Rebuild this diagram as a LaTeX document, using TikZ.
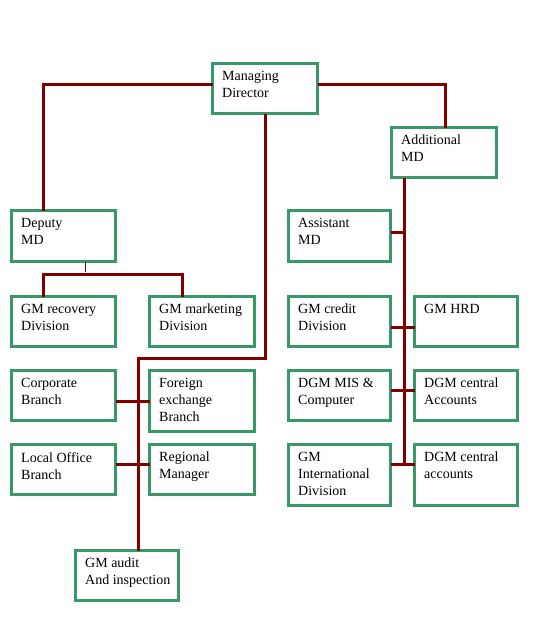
\documentclass[tikz,border=0pt]{standalone}
\usepackage{fontspec}
\setmainfont{Liberation Serif}
\usetikzlibrary{calc}
\definecolor{boxgreen}{RGB}{56,152,104}
\definecolor{linkred}{RGB}{128,0,0}
\tikzset{
  orgbox/.style={draw=boxgreen, line width=3pt, anchor=north west, inner sep=0pt, outer sep=0pt, fill=white},
  orgtext/.style={anchor=north west, align=left, inner sep=0pt, font=\fontsize{14}{17}\selectfont},
  link/.style={draw=linkred, line width=3pt},
  thinlink/.style={draw=linkred, line width=1pt},
}
\newcommand\orgnode[6]{% name x y w h text  (outer edges)
  \node[orgbox, minimum width=#4pt-3pt, minimum height=#5pt-3pt] (#1) at (#2+1.5,#3+1.5) {};
  \node[orgtext] (#1t) at (#2+11,#3+9) {#6};
}
\begin{document}
\begin{tikzpicture}[x=1pt,y=-1pt]
\path[fill=white] (0,0) rectangle (548,618);
\useasboundingbox (0,0) rectangle (548,618);

% lines first (behind boxes)
\coordinate (mdNW) at (211,62);
\orgnode{md}{211}{62}{108}{53}{Managing\\Director}
\orgnode{add}{390}{126}{108}{53}{Additional\\MD}
\orgnode{dep}{10}{209}{107}{54}{Deputy\\MD}
\orgnode{asst}{287}{209}{105}{54}{Assistant\\MD}
\orgnode{rec}{10}{295}{107}{53}{GM recovery\\Division}
\orgnode{mkt}{148}{295}{108}{53}{GM marketing\\Division}
\orgnode{cred}{287}{295}{105}{53}{GM credit\\Division}
\orgnode{hrd}{413}{295}{106}{53}{GM HRD}
\orgnode{corp}{10}{369}{107}{53}{Corporate\\Branch}
\orgnode{forex}{148}{369}{108}{64}{Foreign\\exchange\\Branch}
\orgnode{mis}{287}{369}{105}{53}{DGM MIS \&\\Computer}
\orgnode{dca}{413}{369}{106}{53}{DGM central\\Accounts}
\orgnode{local}{10}{443}{107}{53}{Local Office\\Branch}
\orgnode{reg}{148}{443}{108}{53}{Regional\\Manager}
\orgnode{intl}{287}{443}{105}{64}{GM\\International\\Division}
\orgnode{dcacc}{413}{443}{106}{64}{DGM central\\accounts}
\orgnode{audit}{74}{549}{106}{53}{GM audit\\And inspection}

% Managing Director connections
\draw[link] ($(md.north west)+(0,21)$) -| ($(dep.north west)+(32,0)$);
\draw[link] ($(md.north east)+(0,21)$) -| ($(add.north west)+(54,0)$);
\coordinate (auditTop) at ($(audit.north west)+(63,0)$);
\draw[link] (md.south) |- ($(auditTop)+(0,-192)$) -- (auditTop);

% Deputy MD branch
\draw[thinlink] ($(dep.south west)+(74,0)$) -- ($(dep.south west)+(74,10)$);
\coordinate (mktTop) at ($(mkt.north west)+(33,0)$);
\draw[link] ($(rec.north west)+(32,0)$) |- ($(mktTop)+(0,-22)$) -- (mktTop);

% Additional MD trunk
\coordinate (trunk) at ($(add.south west)+(13,0)$);
\draw[link] (trunk) -- (trunk |- {$(intl.north east)+(0,19.5)$});
\draw[link] ($(asst.east)+(0,-4)$) -- ($(asst.east)+(13,-4)$);
\draw[link] ($(cred.east)+(0,6)$) -- ($(hrd.west)+(0,6)$);
\draw[link] ($(mis.east)+(0,-5)$) -- ($(dca.west)+(0,-5)$);
\draw[link] ($(intl.east)+(0,-11)$) -- ($(dcacc.west)+(0,-11)$);

% Left-hand branch pairs
\draw[link] ($(corp.east)+(0,5.5)$) -- (forex.west);
\draw[link] ($(local.east)+(0,-5.5)$) -- ($(reg.west)+(0,-5.5)$);
\end{tikzpicture}
\end{document}
